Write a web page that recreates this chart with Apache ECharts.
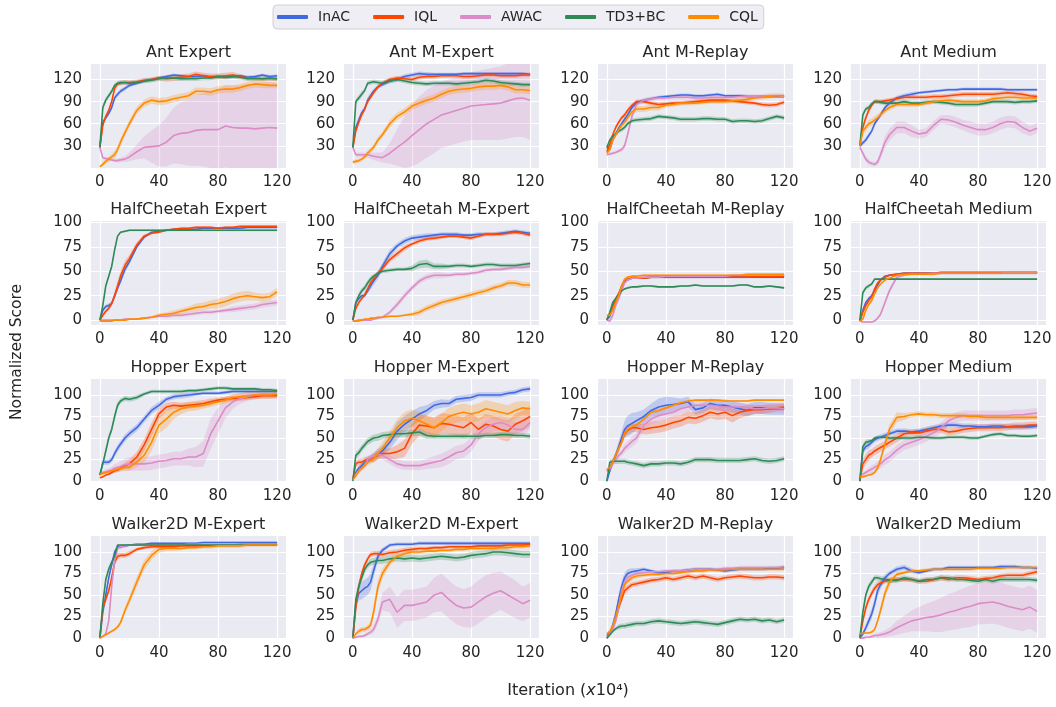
<!DOCTYPE html>
<html><head><meta charset="utf-8">
<script src="https://cdn.jsdelivr.net/npm/echarts@6/dist/echarts.min.js"></script>
<style>html,body{margin:0;padding:0;background:#fff}#c{width:1056px;height:707px}</style>
</head><body><div id="c"></div><script>
// ---------------- data ----------------
const ITER = [0,2,4,6,8,10,12,14,17,20,25,30,35,40,45,50,55,60,65,70,75,80,85,90,95,100,105,110,115,120];
const METHODS = ['InAC','IQL','AWAC','TD3+BC','CQL'];
const ITER_TICKS = [0,40,80,120];
const ANT_TICKS = [30,60,90,120];
const SCORE_TICKS = [0,25,50,75,100];
const TITLES = ['Ant Expert','Ant M-Expert','Ant M-Replay','Ant Medium',
  'HalfCheetah Expert','HalfCheetah M-Expert','HalfCheetah M-Replay','HalfCheetah Medium',
  'Hopper Expert','Hopper M-Expert','Hopper M-Replay','Hopper Medium',
  'Walker2D M-Expert','Walker2D M-Expert','Walker2D M-Replay','Walker2D Medium'];

// each: [InAC, IQL, AWAC, TD3+BC, CQL]
const antExpertMean = [
 [28,62,68,74,82,95,100,104,108,112, 115,118,120,122,124,126,125,124,124,125, 123,124,123,124,125,123,124,126,124,125],
 [28,58,70,78,90,108,114,115,116,116, 117,119,120,122,121,122,123,124,127,125, 124,124,125,126,124,122,122,121,121,121],
 [28,14,13,12,11,10,10,11,12,15, 22,28,29,30,35,44,47,48,51,52, 52,52,57,55,54,54,53,54,55,54],
 [28,82,92,98,104,112,115,116,116,115, 116,118,119,121,122,122,121,121,121,122, 122,124,123,124,123,121,121,121,122,121],
 [2,5,9,12,15,18,25,35,48,60, 78,88,92,90,91,94,96,98,104,104, 103,106,107,107,109,112,114,113,112,112]];
const antExpertSpread = [
 [1,3,3,3,3,3,3,3,3,3, 2,2,2,2,2,2,2,2,2,2, 2,2,2,2,2,2,2,2,2,2],
 [1,3,3,3,3,3,3,3,3,3, 3,3,3,3,4,4,4,4,4,4, 4,4,4,4,3,3,3,3,3,3],
 [1,2,2,2,2,2,3,3,4,6, 10,15,22,28,33,38,42,45,48,50, 52,54,56,57,58,60,61,62,62,62],
 [1,4,4,3,3,3,3,3,3,3, 3,3,3,3,3,3,3,3,3,3, 3,3,3,3,3,3,3,3,3,3],
 [2,3,4,4,4,5,5,5,5,5, 5,5,5,5,5,5,5,5,5,5, 5,5,5,5,5,5,5,5,4,4]];

const antMExpertMean = [
 [28,55,65,75,80,92,98,104,110,113, 118,120,124,126,128,127,127,127,127,127, 128,128,128,128,128,128,128,128,128,127],
 [28,50,62,72,80,90,96,102,110,115, 120,122,121,120,123,124,124,125,125,125, 124,124,125,126,126,125,125,125,126,126],
 [28,18,18,18,18,18,17,16,15,14, 20,28,35,44,52,60,66,72,75,78, 81,84,85,86,87,88,91,94,95,92],
 [28,90,95,100,105,115,116,117,116,115, 118,120,118,116,115,114,115,115,115,114, 115,116,117,119,118,116,115,114,113,113],
 [8,9,10,12,15,20,24,28,38,45, 60,70,76,84,88,92,95,100,104,106, 107,108,110,111,111,112,110,106,106,105]];
const antMExpertSpread = [
 [1,4,4,4,4,4,4,3,3,3, 3,3,3,3,3,3,2,2,2,2, 2,2,2,2,2,2,2,2,2,2],
 [1,3,3,3,3,3,3,3,3,3, 3,3,3,3,3,3,3,3,3,3, 3,3,3,3,3,3,3,3,3,3],
 [1,3,3,3,3,4,4,5,6,7, 14,25,35,42,45,46,46,45,45,45, 45,46,47,48,49,50,51,52,53,54],
 [1,4,4,4,3,3,3,3,3,3, 3,3,3,3,3,3,3,3,3,3, 3,3,3,3,3,3,3,3,3,3],
 [2,3,3,3,3,4,4,4,4,4, 5,5,5,5,5,5,5,5,5,5, 5,5,5,5,5,5,5,5,5,5]];

const antMReplayMean = [
 [28,25,38,46,54,60,66,72,82,88, 92,94,96,97,98,99,99,98,98,99, 100,98,98,98,97,97,97,97,97,97],
 [22,32,45,55,62,68,72,78,85,90, 90,88,86,87,88,88,89,90,91,92, 92,92,91,90,89,88,86,85,86,89],
 [18,19,20,21,23,25,30,45,70,86, 92,94,95,95,96,96,96,95,95,96, 96,96,96,97,97,97,97,98,98,97],
 [28,38,43,46,50,52,55,60,64,65, 66,67,70,69,68,66,66,66,67,67, 66,66,63,64,64,63,64,67,70,68],
 [20,25,38,45,52,58,62,68,76,80, 80,82,82,85,86,88,88,88,89,90, 90,90,91,92,93,95,96,97,98,98]];
const antMReplaySpread = [
 [2,3,3,3,3,3,3,3,3,3, 2,2,2,2,2,2,2,2,2,2, 2,2,2,2,2,2,2,2,2,2],
 [2,3,3,3,3,3,3,3,3,3, 3,3,3,3,3,3,3,3,3,3, 3,3,3,3,3,3,3,3,3,3],
 [2,2,2,2,2,3,4,5,5,4, 3,3,3,3,3,3,3,3,3,3, 3,3,3,3,3,3,3,3,3,3],
 [2,3,3,3,3,3,3,3,3,3, 3,3,3,3,3,3,3,3,3,3, 3,3,3,3,3,3,3,3,3,3],
 [2,3,3,3,3,3,4,4,4,4, 4,4,4,3,3,3,3,3,3,3, 3,3,3,3,3,3,3,3,3,3]];

const antMediumMean = [
 [30,34,38,44,50,60,66,72,82,88, 95,98,100,102,103,104,105,106,106,107, 107,107,107,107,107,106,106,106,106,106],
 [30,55,68,78,85,90,90,90,91,92, 94,96,96,96,96,97,97,98,99,100, 100,100,100,100,101,102,101,100,98,97],
 [28,20,12,8,6,5,8,18,35,45, 55,55,50,46,48,58,66,65,62,58, 55,52,52,55,60,63,62,55,50,54],
 [30,72,80,82,87,90,90,89,88,88, 88,90,88,88,89,90,89,88,86,86, 86,86,88,90,90,90,89,90,90,91],
 [30,50,55,60,62,65,68,72,78,82, 86,86,86,86,88,90,91,92,91,90, 90,90,91,94,95,96,96,95,95,95]];
const antMediumSpread = [
 [3,3,3,3,3,3,3,3,3,3, 3,3,3,2,2,2,2,2,2,2, 2,2,2,2,2,2,2,2,2,2],
 [2,4,4,4,3,3,3,3,3,3, 3,3,3,3,3,3,3,3,3,3, 3,3,3,3,3,3,3,3,3,3],
 [2,4,4,4,3,3,4,6,8,8, 8,8,8,6,6,6,6,7,7,7, 8,8,8,8,8,8,8,8,7,7],
 [2,4,3,3,3,3,3,3,3,3, 3,3,3,3,3,3,3,3,3,3, 3,3,3,3,3,3,3,3,3,3],
 [3,5,5,5,5,5,5,4,4,4, 3,3,3,3,3,3,3,3,3,3, 3,3,3,3,3,3,3,3,3,3]];

const hcExpertMean = [
 [0,10,14,15,17,25,33,40,52,60, 75,85,90,91,92,93,93,93,93,94, 94,94,94,94,94,95,95,95,95,95],
 [0,5,9,12,17,25,35,45,56,63, 77,86,89,90,92,93,94,94,95,95, 95,94,95,95,96,96,96,96,96,96],
 [0,0,0,0,0,0,0,0,1,1, 1,2,3,4,4,5,5,6,7,8, 8,9,10,11,12,13,14,16,17,18],
 [0,15,35,45,55,72,86,90,91,92, 92,92,92,92,92,92,92,92,92,92, 92,92,92,92,92,92,92,92,92,92],
 [-1,-1,-1,-1,-1,0,0,0,0,1, 1,2,3,5,6,7,9,11,13,14, 16,17,19,22,24,25,24,23,24,29]];
const hcExpertSpread = [
 [1,2,2,2,2,3,3,3,3,3, 2,2,1,1,1,1,1,1,1,1, 1,1,1,1,1,1,1,1,1,1],
 [1,2,2,2,2,4,5,5,5,4, 3,2,1,1,1,1,1,1,1,1, 1,1,1,1,1,1,1,1,1,1],
 [1,1,1,1,1,1,1,1,1,1, 1,1,1,1,2,2,2,2,2,2, 2,2,2,3,3,3,3,3,3,3],
 [1,2,2,2,2,2,1,1,1,1, 1,1,1,1,1,1,1,1,1,1, 1,1,1,1,1,1,1,1,1,1],
 [1,1,1,1,1,1,1,1,1,1, 1,1,1,2,2,3,3,3,4,4, 4,5,5,5,5,5,4,4,4,4]];

const hcMExpertMean = [
 [0,18,22,25,25,30,35,40,46,55, 68,76,81,84,85,86,87,88,88,88, 87,87,88,88,88,89,90,91,90,89],
 [0,12,18,22,26,32,38,42,48,53, 62,68,74,78,81,83,84,85,86,86, 85,84,86,88,88,88,89,90,89,87],
 [-1,-1,-1,0,0,0,0,1,2,3, 8,16,25,33,40,44,46,46,46,47, 47,48,49,51,52,52,53,54,54,55],
 [0,18,25,30,33,38,42,45,48,50, 51,52,52,53,57,58,55,55,55,56, 56,55,56,57,57,56,56,56,57,58],
 [-1,-1,0,0,1,1,2,2,3,3, 4,4,5,6,8,12,15,18,20,22, 24,26,28,30,33,35,38,38,36,36]];
const hcMExpertSpread = [
 [1,2,2,2,2,3,4,4,4,4, 4,3,3,3,3,3,2,2,2,2, 2,2,2,2,2,2,2,2,2,2],
 [1,2,2,2,2,3,3,3,3,3, 3,3,3,2,2,2,2,2,2,2, 2,2,2,2,2,2,2,2,2,2],
 [1,1,1,1,1,1,1,1,1,1, 2,3,3,3,3,3,3,3,2,2, 2,2,2,2,2,2,2,2,2,2],
 [1,3,3,3,3,3,3,2,2,2, 2,2,2,3,4,4,3,3,2,2, 2,2,2,2,2,2,2,2,2,2],
 [1,1,1,1,1,1,1,1,1,1, 1,1,1,2,3,3,3,3,3,3, 3,3,3,3,3,3,3,3,3,3]];

const hcMReplayMean = [
 [0,4,14,20,27,33,40,41,43,43, 43,44,44,44,44,44,44,44,44,44, 44,44,44,44,44,44,44,44,44,44],
 [1,5,15,22,27,35,40,42,43,43, 43,44,44,44,44,44,44,44,44,44, 44,44,44,44,44,45,45,45,45,45],
 [0,-1,5,15,22,30,38,41,43,43, 44,44,44,45,45,45,45,45,45,45, 45,45,46,46,46,46,46,46,46,46],
 [0,8,18,22,26,30,32,33,34,34, 35,35,34,34,34,35,35,36,35,35, 35,35,35,36,36,34,34,35,34,33],
 [5,5,10,18,25,35,42,44,45,45, 46,46,46,46,46,46,46,46,46,46, 46,46,46,46,47,47,47,47,47,47]];
const hcMReplaySpread = [
 [1,1,2,2,2,2,1,1,1,1, 1,1,1,1,1,1,1,1,1,1, 1,1,1,1,1,1,1,1,1,1],
 [1,1,2,2,2,2,1,1,1,1, 1,1,1,1,1,1,1,1,1,1, 1,1,1,1,1,1,1,1,1,1],
 [1,1,2,2,2,2,1,1,1,1, 1,1,1,1,1,1,1,1,1,1, 1,1,1,1,1,1,1,1,1,1],
 [1,2,2,2,1,1,1,1,1,1, 1,1,1,1,1,1,1,1,1,1, 1,1,1,1,1,1,1,1,1,1],
 [1,1,2,2,2,2,1,1,1,1, 1,1,1,1,1,1,1,1,1,1, 1,1,1,1,1,1,1,1,1,1]];

const hcMediumMean = [
 [-1,10,18,22,25,30,36,41,45,46, 47,48,48,48,48,48,48,48,48,48, 48,48,48,48,48,48,48,48,48,48],
 [-1,8,15,20,24,32,38,41,44,46, 47,48,48,48,48,48,49,49,49,49, 49,49,49,49,49,49,49,49,49,49],
 [-1,-2,-2,-2,-2,-1,2,6,18,30, 44,46,47,47,47,48,48,48,48,48, 48,48,48,48,48,49,49,49,49,49],
 [0,28,33,35,37,42,42,42,42,42, 42,42,42,42,42,42,42,42,42,42, 42,42,42,42,42,42,42,42,42,42],
 [-1,1,10,16,20,27,33,37,41,43, 46,47,47,47,47,47,48,48,48,48, 48,48,48,48,48,48,48,48,48,48]];
const hcMediumSpread = [
 [1,2,2,2,2,2,2,1,1,1, 1,1,1,1,1,1,1,1,1,1, 1,1,1,1,1,1,1,1,1,1],
 [1,2,2,2,2,2,2,1,1,1, 1,1,1,1,1,1,1,1,1,1, 1,1,1,1,1,1,1,1,1,1],
 [1,1,1,1,1,1,1,2,3,3, 2,1,1,1,1,1,1,1,1,1, 1,1,1,1,1,1,1,1,1,1],
 [1,2,2,2,1,1,1,1,1,1, 1,1,1,1,1,1,1,1,1,1, 1,1,1,1,1,1,1,1,1,1],
 [1,2,2,2,2,2,2,1,1,1, 1,1,1,1,1,1,1,1,1,1, 1,1,1,1,1,1,1,1,1,1]];

const hopperExpertMean = [
 [7,22,22,22,25,32,38,43,50,55, 62,72,82,88,95,98,99,100,101,102, 102,102,103,104,104,104,104,104,104,104],
 [4,5,7,8,10,12,13,15,18,20, 28,42,60,78,86,88,87,88,89,90, 92,94,95,96,96,97,98,99,99,99],
 [8,10,11,12,13,15,16,17,19,20, 20,20,21,23,24,26,26,28,28,32, 55,70,85,92,96,98,100,101,101,101],
 [7,20,35,50,60,75,88,93,96,95, 97,101,104,104,104,104,104,105,105,106, 107,108,108,107,107,107,107,106,106,105],
 [8,9,10,11,12,13,14,15,16,16, 22,30,45,65,72,80,84,86,87,88, 90,92,94,97,98,99,100,100,100,101]];
const hopperExpertSpread = [
 [1,3,3,3,3,4,4,4,4,4, 4,4,4,4,3,3,3,3,2,2, 2,2,2,2,2,2,2,2,2,2],
 [1,1,1,1,2,2,3,3,4,5, 6,7,8,6,5,4,4,4,4,4, 4,3,3,3,3,3,3,3,3,3],
 [1,2,3,3,4,5,5,6,7,8, 8,8,8,8,8,8,8,10,12,15, 18,15,12,8,6,5,5,5,5,5],
 [1,3,4,4,4,4,4,3,3,3, 3,2,2,2,2,2,2,2,2,2, 2,2,2,2,2,2,2,2,2,2],
 [1,2,2,2,2,3,3,3,4,4, 6,8,10,10,10,8,6,5,5,4, 4,4,4,4,4,4,4,4,4,4]];

const hopperMExpertMean = [
 [2,10,15,18,22,24,26,28,32,35, 45,58,66,72,78,82,88,90,90,95, 96,97,100,100,100,100,102,103,106,107],
 [2,20,22,22,24,25,26,27,30,32, 32,34,38,55,65,64,62,67,66,64, 62,68,60,66,64,60,58,66,70,75],
 [2,8,12,15,19,25,27,29,31,30, 25,20,18,18,18,20,22,24,28,33, 35,42,55,62,66,68,65,60,60,68],
 [0,30,33,38,42,46,48,50,51,53, 54,55,55,56,57,53,52,52,52,52, 52,52,52,53,53,54,54,53,53,52],
 [2,6,12,15,18,22,24,26,32,38, 50,62,70,73,70,66,62,68,75,78, 80,78,80,84,82,80,78,82,85,84]];
const hopperMExpertSpread = [
 [1,3,3,3,4,4,4,5,6,6, 8,10,10,9,8,6,5,5,4,4, 4,4,3,3,3,3,3,3,3,3],
 [1,3,4,4,4,4,4,5,5,6, 6,8,10,12,12,12,12,12,12,12, 12,12,12,12,12,12,12,12,12,12],
 [1,2,3,3,4,4,4,4,4,5, 5,5,5,5,5,6,7,8,8,8, 8,8,8,8,8,8,8,8,8,8],
 [1,4,4,4,4,4,4,4,4,4, 4,4,4,4,4,4,3,3,3,3, 3,3,3,3,3,3,3,3,3,3],
 [1,2,3,3,3,4,4,5,6,7, 8,10,10,10,10,10,10,10,10,10, 10,10,10,10,10,10,10,10,8,8]];

const hopperMReplayMean = [
 [0,12,22,30,40,50,60,64,67,70, 75,82,86,88,89,90,92,83,85,90, 88,88,86,84,82,85,85,84,84,84],
 [12,15,22,30,38,46,55,59,62,62, 60,62,63,65,68,70,74,73,76,80, 78,80,76,80,82,83,83,84,85,86],
 [12,14,20,25,30,33,38,41,46,50, 65,72,76,78,80,84,86,88,88,88, 87,86,86,86,85,84,84,85,85,84],
 [0,22,23,23,23,23,23,22,21,20, 18,20,20,21,21,20,22,25,25,25, 24,24,24,24,25,26,24,23,24,26],
 [14,16,22,30,38,45,56,60,63,65, 72,80,82,85,88,91,93,94,94,94, 94,93,93,93,93,94,94,94,94,94]];
const hopperMReplaySpread = [
 [1,3,4,5,6,8,10,12,12,10, 8,8,10,10,8,6,6,6,6,6, 6,7,7,7,7,7,7,7,7,7],
 [1,2,3,3,3,4,4,5,5,5, 6,7,7,7,7,7,7,7,7,7, 7,8,8,7,6,5,5,5,4,4],
 [1,2,3,3,4,4,5,5,6,6, 6,6,6,6,6,6,5,5,5,5, 5,5,5,5,5,5,5,5,5,5],
 [1,3,3,3,3,3,3,3,3,3, 3,3,3,3,3,3,3,3,3,3, 3,3,3,3,3,3,3,3,3,3],
 [1,2,2,2,2,2,2,2,2,2, 2,2,2,2,2,2,1,1,1,1, 1,1,1,1,1,1,1,1,1,1]];

const hopperMediumMean = [
 [0,35,40,42,45,48,50,51,53,55, 58,58,57,58,60,62,64,65,65,64, 64,63,63,64,64,63,63,63,63,64],
 [0,20,25,30,32,35,37,39,42,45, 50,55,56,56,58,60,60,57,58,60, 61,62,62,62,62,63,64,64,65,65],
 [5,8,10,12,14,16,18,20,25,28, 36,42,45,48,52,56,62,70,74,76, 76,76,76,76,76,76,77,77,78,79],
 [0,40,45,46,47,50,51,51,51,50, 50,50,50,51,51,50,50,51,51,51, 50,50,52,54,55,53,53,52,52,53],
 [5,5,6,7,8,10,15,25,43,60, 74,75,77,78,77,77,76,76,76,76, 75,75,74,74,74,74,74,74,74,74]];
const hopperMediumSpread = [
 [1,4,4,4,3,3,3,3,3,3, 3,3,3,3,3,3,3,3,3,3, 3,3,3,3,3,3,3,3,3,3],
 [1,6,6,6,5,5,5,5,5,5, 5,4,4,4,4,4,4,4,4,4, 4,4,4,4,4,4,4,4,4,4],
 [1,2,3,3,4,4,5,5,6,6, 6,6,6,6,6,6,6,6,6,6, 6,6,6,6,6,6,6,6,6,6],
 [1,4,3,3,2,2,2,2,2,2, 2,2,2,2,2,2,2,2,2,2, 2,2,2,2,2,2,2,2,2,2],
 [1,1,1,1,2,2,3,4,5,6, 6,4,3,3,3,3,3,3,3,3, 3,3,3,3,3,3,3,3,3,3]];

const walkerMExpertAMean = [
 [0,30,50,70,85,100,106,106,107,108, 109,109,110,110,110,110,110,110,110,111, 111,111,111,111,111,111,111,111,111,111],
 [0,35,45,55,70,88,95,96,96,98, 103,105,106,106,106,106,107,107,107,107, 108,108,108,108,109,109,109,109,109,109],
 [0,2,5,20,60,90,104,106,107,108, 108,108,108,108,108,108,108,109,109,109, 109,109,109,109,109,109,109,109,109,109],
 [0,40,68,80,88,95,108,108,108,108, 108,108,108,108,108,108,108,108,108,108, 108,108,108,108,108,108,108,108,108,108],
 [0,2,4,6,8,10,13,18,32,44, 65,85,96,103,104,104,104,105,105,106, 106,107,107,107,107,108,108,108,108,108]];
const walkerMExpertASpread = [
 [1,3,3,3,3,3,2,2,2,1, 1,1,1,1,1,1,1,1,1,1, 1,1,1,1,1,1,1,1,1,1],
 [1,4,4,4,4,4,4,3,3,3, 2,2,2,2,2,2,1,1,1,1, 1,1,1,1,1,1,1,1,1,1],
 [1,1,2,3,5,5,3,2,1,1, 1,1,1,1,1,1,1,1,1,1, 1,1,1,1,1,1,1,1,1,1],
 [1,3,3,3,3,2,1,1,1,1, 1,1,1,1,1,1,1,1,1,1, 1,1,1,1,1,1,1,1,1,1],
 [1,1,1,1,1,2,2,3,4,5, 6,6,5,4,3,3,2,2,2,2, 2,2,2,2,2,2,2,2,2,2]];

const walkerMExpertBMean = [
 [0,40,52,55,58,60,65,78,95,102, 108,109,109,109,110,110,110,110,110,110, 110,110,110,110,110,110,110,110,110,110],
 [0,35,60,75,85,92,97,98,98,97, 99,100,102,103,104,104,105,105,106,106, 106,106,107,107,107,107,108,108,108,109],
 [0,1,2,2,3,5,7,10,22,42, 45,30,38,38,40,42,50,53,45,38, 35,36,42,48,52,55,50,45,40,44],
 [0,45,60,70,80,85,88,89,90,90, 92,93,92,93,92,93,94,95,94,93, 94,96,97,98,100,100,99,98,97,97],
 [0,5,8,10,10,12,15,30,60,75, 88,95,98,100,100,101,101,102,102,103, 103,104,104,104,104,105,105,106,106,107]];
const walkerMExpertBSpread = [
 [1,6,8,10,10,10,10,8,5,3, 2,2,2,2,2,2,2,2,2,2, 2,2,2,2,2,2,2,2,2,2],
 [1,4,4,4,3,3,3,3,3,3, 3,3,3,3,2,2,2,2,2,2, 2,2,2,2,2,2,2,2,2,2],
 [1,1,1,1,2,2,3,4,6,10, 15,18,18,18,18,18,20,22,22,22, 22,24,25,25,24,22,22,22,20,20],
 [1,6,6,5,5,4,4,4,4,4, 4,4,4,4,4,4,4,4,4,4, 4,4,4,4,4,4,4,4,4,4],
 [1,2,3,3,3,3,4,6,8,6, 4,3,3,3,2,2,2,2,2,2, 2,2,2,2,2,2,2,2,2,2]];

const walkerMReplayMean = [
 [0,6,15,28,45,60,70,75,77,78, 80,78,76,76,78,78,79,80,80,80, 79,78,79,80,80,80,80,81,81,82],
 [3,6,12,22,35,45,55,58,62,63, 65,67,68,70,68,70,72,70,72,70, 68,70,71,72,71,70,70,71,71,70],
 [0,5,10,20,35,55,65,70,73,75, 76,77,77,78,78,78,79,80,80,80, 80,81,81,82,82,82,82,82,82,83],
 [0,4,8,11,13,14,14,15,16,17, 17,19,20,19,18,17,18,19,18,17, 16,18,20,22,21,22,20,21,19,21],
 [5,8,14,25,38,50,62,66,70,72, 73,74,74,75,75,76,77,78,78,79, 79,79,80,80,80,80,80,80,80,80]];
const walkerMReplaySpread = [
 [1,2,3,4,5,6,6,5,4,3, 2,2,2,2,2,2,2,2,2,2, 2,2,2,2,2,2,2,2,2,2],
 [1,2,2,3,3,4,4,4,3,3, 3,3,3,3,3,3,3,3,3,3, 3,3,3,3,3,3,3,3,3,3],
 [1,2,3,4,5,5,4,3,2,2, 2,2,2,2,2,2,2,2,2,2, 2,2,2,2,2,2,2,2,2,2],
 [1,2,2,2,3,3,3,3,3,3, 3,3,3,3,3,3,3,3,3,3, 3,3,3,3,3,3,3,3,3,3],
 [2,2,3,3,4,4,4,3,3,3, 2,2,2,2,2,2,2,2,2,2, 2,2,2,2,2,2,2,2,2,2]];

const walkerMediumMean = [
 [0,5,12,20,28,40,55,62,70,75, 80,82,78,76,78,80,80,82,82,82, 82,82,82,82,83,83,83,82,82,81],
 [0,20,35,45,52,58,62,64,66,67, 68,68,68,66,66,68,70,68,70,70, 69,68,69,70,72,73,73,73,75,77],
 [0,0,1,1,2,3,3,4,5,7, 12,16,20,22,24,25,27,30,32,35, 37,40,41,42,40,37,35,33,36,31],
 [0,30,50,60,65,70,70,69,68,67, 67,70,68,66,68,68,70,70,68,68, 67,66,68,66,68,68,68,68,68,67],
 [5,6,6,6,7,10,20,32,52,65, 74,76,78,78,79,80,80,80,80,80, 80,81,81,81,81,82,82,82,82,82]];
const walkerMediumSpread = [
 [1,3,4,5,6,6,6,5,4,3, 3,3,3,2,2,2,2,2,2,2, 2,2,2,2,2,2,2,2,2,2],
 [1,4,4,4,4,4,4,3,3,3, 3,3,3,3,3,3,3,3,3,3, 3,3,3,3,3,3,3,3,3,3],
 [1,1,1,1,2,2,3,3,4,5, 8,10,12,14,16,18,20,21,22,23, 24,24,25,25,25,25,25,25,25,25],
 [1,4,4,4,4,3,3,3,3,3, 3,3,3,3,3,3,3,3,3,3, 3,3,3,3,3,3,3,3,3,3],
 [1,1,1,1,1,2,3,5,6,5, 3,2,2,2,2,2,2,2,2,2, 2,2,2,2,2,2,2,2,2,2]];

const PANEL_MEANS = [antExpertMean, antMExpertMean, antMReplayMean, antMediumMean,
  hcExpertMean, hcMExpertMean, hcMReplayMean, hcMediumMean,
  hopperExpertMean, hopperMExpertMean, hopperMReplayMean, hopperMediumMean,
  walkerMExpertAMean, walkerMExpertBMean, walkerMReplayMean, walkerMediumMean];
const PANEL_SPREADS = [antExpertSpread, antMExpertSpread, antMReplaySpread, antMediumSpread,
  hcExpertSpread, hcMExpertSpread, hcMReplaySpread, hcMediumSpread,
  hopperExpertSpread, hopperMExpertSpread, hopperMReplaySpread, hopperMediumSpread,
  walkerMExpertASpread, walkerMExpertBSpread, walkerMReplaySpread, walkerMediumSpread];

// ---------------- layout / style ----------------
const COLORS = ['#4169E1','#FF4500','#DB8BC6','#2E8B57','#FF8C00'];
const FONT = 'DejaVu Sans';
const TXT = '#262626';
const COL_LEFT = [91,344,598,851];
const ROW_TOP = [64,221,379,536];
const ROW_H = [104,104,103,103];
const PW = 195;
const ROW_Y = [
  {min:0, max:141, ticks:ANT_TICKS},
  {min:-5, max:101.5, ticks:SCORE_TICKS},
  {min:-1, max:118.5, ticks:SCORE_TICKS},
  {min:-1, max:118.5, ticks:SCORE_TICKS}];

function bandRender(mean, sp, color) {
  return function (params, api) {
    if (params.dataIndex !== 0) return null;
    const up = [], lo = [];
    for (let i = 0; i < ITER.length; i++) {
      up.push(api.coord([ITER[i], mean[i] + sp[i]]));
      lo.push(api.coord([ITER[i], mean[i] - sp[i]]));
    }
    return {type:'polygon', shape:{points: up.concat(lo.reverse())},
      style:{fill: color, opacity: 0.25}};
  };
}

const grids=[], xAxes=[], yAxes=[], series=[], graphics=[];
PANEL_MEANS.forEach((means, k) => {
  const r = Math.floor(k/4), c = k%4;
  const ycfg = ROW_Y[r];
  grids.push({left:COL_LEFT[c], top:ROW_TOP[r], width:PW, height:ROW_H[r], show:true,
    backgroundColor:'#EAEAF2', borderWidth:0, containLabel:false});
  xAxes.push({type:'value', gridIndex:k, min:-6, max:126,
    axisLine:{show:false}, axisTick:{show:false, customValues:ITER_TICKS},
    axisLabel:{customValues:ITER_TICKS, color:TXT, fontSize:15, fontFamily:FONT, margin:7},
    splitLine:{show:true, lineStyle:{color:'#ffffff', width:1.2}}});
  yAxes.push({type:'value', gridIndex:k, min:ycfg.min, max:ycfg.max,
    axisLine:{show:false}, axisTick:{show:false, customValues:ycfg.ticks},
    axisLabel:{customValues:ycfg.ticks, color:TXT, fontSize:15, fontFamily:FONT, margin:9},
    splitLine:{show:true, lineStyle:{color:'#ffffff', width:1.2}}});
  const spreads = PANEL_SPREADS[k];
  means.forEach((mean, m) => {
    series.push({type:'custom', xAxisIndex:k, yAxisIndex:k, silent:true, clip:true, z:1,
      data: ITER.map((x,i)=>[x, mean[i]]), encode:{x:0, y:1},
      renderItem: bandRender(mean, spreads[m], COLORS[m])});
  });
  means.forEach((mean, m) => {
    series.push({type:'line', name:METHODS[m], xAxisIndex:k, yAxisIndex:k,
      data: ITER.map((x,i)=>[x, mean[i]]), symbol:'none', color:COLORS[m],
      lineStyle:{color:COLORS[m], width:1.6}, z:3+m});
  });
  graphics.push({type:'text', x:COL_LEFT[c]+PW/2, y:ROW_TOP[r]-11, silent:true,
    style:{text:TITLES[k], fontSize:16, fontFamily:FONT, fill:TXT, align:'center', verticalAlign:'middle'}});
});

graphics.push({type:'text', x:17, y:352, rotation:Math.PI/2, silent:true,
  style:{text:'Normalized Score', fontSize:15.5, fontFamily:FONT, fill:TXT, align:'center', verticalAlign:'middle'}});
graphics.push({type:'text', x:568, y:691, silent:true,
  style:{text:'{a|Iteration (}{i|x}{a|10⁴)}', fontSize:16, fontFamily:FONT, fill:TXT, align:'center', verticalAlign:'middle',
    rich:{a:{fontSize:16, fontFamily:FONT, fill:TXT}, i:{fontSize:16, fontFamily:FONT, fontStyle:'italic', fill:TXT}}}});

const chart = echarts.init(document.getElementById('c'), null, {renderer:'canvas'});
chart.setOption({
  animation:false,
  backgroundColor:'#ffffff',
  legend:{data:METHODS, left:273, top:5, icon:'roundRect', itemWidth:31, itemHeight:4, itemGap:23,
    textStyle:{fontSize:14, fontFamily:FONT, color:TXT, padding:[0,0,0,5]},
    backgroundColor:'#EEEEF4', borderColor:'#CFCFD4', borderWidth:1, borderRadius:4, padding:[5,6,5,4]},
  grid:grids, xAxis:xAxes, yAxis:yAxes, series:series, graphic:graphics
});
</script></body></html>
